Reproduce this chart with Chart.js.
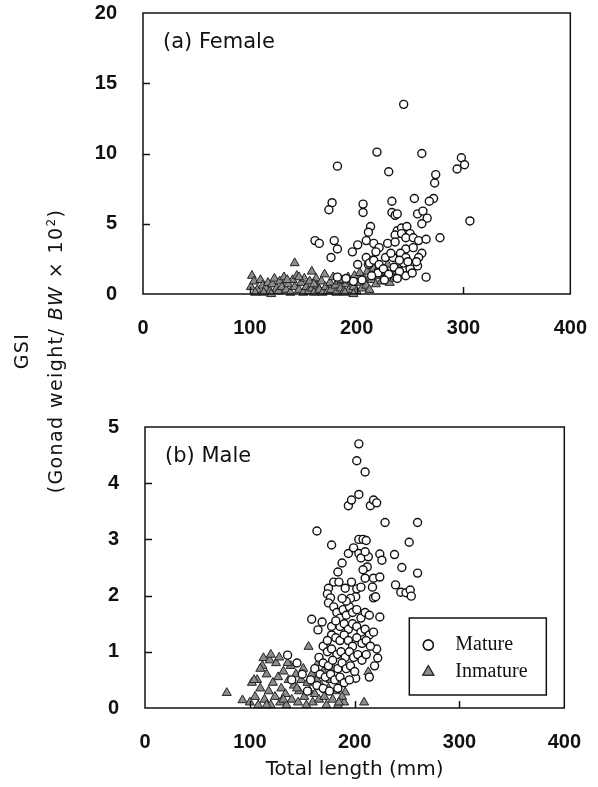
<!DOCTYPE html>
<html>
<head>
<meta charset="utf-8">
<script src="https://cdn.jsdelivr.net/npm/chart.js@4.4.0/dist/chart.umd.min.js"></script>
<style>
  body { margin: 0; background: #fff; }
  #wrap { position: relative; width: 598px; height: 787px; overflow: hidden; }
  #boxA { position: absolute; left: 0; top: -25px; width: 609px; height: 365px; }
  #boxB { position: absolute; left: 0; top: 340px; width: 603px; height: 447px; }
  #ytitle {
    position: absolute; left: -112px; top: 317px; width: 300px; height: 68px;
    text-align: center; transform: rotate(-90deg);
    font-family: "DejaVu Sans"; font-size: 19px; letter-spacing: 1.4px; line-height: 34px; color: #111;
  }
  #ytitle sup { font-size: 12px; line-height: 0; }
</style>
</head>
<body>
<div id="wrap">
  <div id="boxA"><canvas id="female"></canvas></div>
  <div id="boxB"><canvas id="male"></canvas></div>
  <div id="ytitle">GSI<br>(Gonad weight/ <i>BW</i> &#215; 10<sup>2</sup>)</div>
</div>
<script>
// tick labels
const xTicks = [0, 100, 200, 300, 400];
const femaleYTicks = [0, 5, 10, 15, 20];
const maleYTicks = [0, 1, 2, 3, 4, 5];

// (a) Female - total length (mm) / GSI
const femaleMatureX = [182, 219, 230, 177, 174, 206, 206, 233, 233, 213, 211, 161, 165, 179, 182, 176, 196, 201, 209, 216, 221, 218, 229, 209, 215, 201, 211, 227, 182,
  244, 261, 298, 294, 301, 274, 273, 254, 272, 268, 236, 238, 257, 262, 266, 261, 306, 238, 242, 247, 236, 242, 250, 246, 253, 258, 265, 278, 236, 246, 253, 261, 241, 246, 258, 257, 212, 216, 221, 234, 246, 265,
  220, 225, 230, 235, 240, 244, 250, 238, 226, 214, 205, 197, 190, 232, 248, 252, 256, 240];
const femaleMatureY = [9.1, 10.1, 8.7, 6.5, 6.0, 6.4, 5.8, 6.6, 5.8, 4.8, 4.4, 3.8, 3.6, 3.8, 3.2, 2.6, 3.0, 3.5, 3.8, 3.6, 3.3, 3.0, 3.6, 2.6, 2.4, 2.1, 2.1, 2.6, 1.2,
  13.5, 10.0, 9.7, 8.9, 9.2, 8.5, 7.9, 6.8, 6.8, 6.6, 5.6, 5.7, 5.7, 5.9, 5.4, 5.0, 5.2, 4.5, 4.7, 4.8, 4.2, 4.3, 4.3, 4.0, 4.0, 3.8, 3.9, 4.0, 3.7, 3.2, 3.3, 2.9, 2.9, 2.6, 2.6, 2.0, 2.2, 2.4, 2.1, 2.6, 1.3, 1.2,
  1.5, 1.8, 1.4, 1.9, 1.6, 2.2, 1.8, 1.1, 1.0, 1.3, 1.0, 0.9, 1.1, 2.9, 2.3, 1.5, 2.3, 2.4];
const femaleImmatureX = [102, 101, 104, 107, 110, 112, 115, 117, 119, 121, 123, 125, 127, 128, 130, 132, 134, 136, 138, 140, 142, 142, 144, 146, 148, 150, 151, 153, 155, 156, 158, 158, 160, 162, 163, 165, 167, 168, 170, 171, 173, 175, 176, 178, 180, 181, 183, 185, 186, 188, 190, 192, 193, 195, 197, 198, 200, 202, 203, 205, 207, 209, 210, 212, 214, 216, 218, 219, 221, 223, 225, 227, 228, 229, 231, 233, 235, 238, 113, 146, 135, 189, 160, 120, 105, 197, 240];
const femaleImmatureY = [1.3, 0.5, 0.9, 0.3, 1.0, 0.6, 0.4, 0.8, 0.2, 0.7, 1.1, 0.4, 0.2, 0.9, 0.5, 1.2, 0.3, 0.7, 0.1, 1.0, 2.2, 0.5, 1.3, 0.3, 0.8, 0.1, 1.1, 0.5, 0.2, 0.9, 1.6, 0.4, 0.1, 1.1, 0.6, 0.3, 0.9, 0.1, 1.4, 0.5, 0.2, 0.8, 0.3, 1.2, 0.6, 0.1, 0.9, 0.4, 1.0, 0.2, 0.7, 1.2, 0.3, 0.9, 0.5, 1.3, 0.2, 0.8, 1.5, 0.4, 1.1, 0.6, 1.6, 0.3, 1.0, 1.8, 0.7, 1.3, 1.9, 0.9, 1.5, 1.2, 1.6, 2.1, 0.8, 1.4, 1.1, 1.2, 0.1, 1.2, 1.0, 0.1, 0.7, 0.0, 0.1, 0.0, 1.8];

// (b) Male
const maleMatureX = [204, 202, 210, 204, 194, 197, 215, 218, 221, 229, 164, 178, 194, 199, 204, 208, 211, 204, 206, 213, 210, 224, 226, 184, 188, 180, 185, 191, 197, 175, 174, 177, 175, 202, 201, 206, 210, 212, 208, 218, 217, 218, 220, 224, 159, 165, 169, 136, 201, 222, 221, 224, 260, 252, 238, 245, 260, 239, 244, 249, 253, 254,
  180, 183, 186, 189, 192, 195, 198, 202, 206, 210, 214, 186, 190, 194, 198, 202, 206, 210, 214, 218, 178, 182, 186, 190, 194, 198, 202, 207, 211, 215, 170, 174, 178, 183, 187, 191, 195, 199, 203, 207, 211, 166, 170, 175, 179, 184, 188, 192, 196, 200, 162, 167, 172, 177, 181, 186, 190, 195, 158, 164, 170, 150, 145, 140, 155, 176, 184, 219, 214, 178, 174, 182, 196, 192, 188];
const maleMatureY = [4.7, 4.4, 4.2, 3.8, 3.6, 3.7, 3.6, 3.7, 3.65, 3.3, 3.15, 2.9, 2.75, 2.85, 3.0, 3.0, 2.98, 2.75, 2.67, 2.69, 2.78, 2.74, 2.63, 2.42, 2.58, 2.24, 2.24, 2.13, 2.24, 2.13, 2.03, 1.96, 1.87, 2.12, 1.98, 2.15, 2.31, 2.51, 2.46, 2.31, 2.15, 1.96, 1.98, 2.33, 1.58, 1.39, 1.53, 0.94, 0.53, 0.89, 1.05, 1.62, 3.3, 2.95, 2.73, 2.5, 2.4, 2.19, 2.06, 2.05, 2.1, 1.99,
  1.8, 1.7, 1.6, 1.75, 1.65, 1.8, 1.7, 1.75, 1.6, 1.7, 1.65, 1.45, 1.5, 1.4, 1.5, 1.45, 1.35, 1.4, 1.3, 1.35, 1.3, 1.25, 1.2, 1.3, 1.2, 1.1, 1.25, 1.15, 1.2, 1.1, 1.1, 1.0, 1.05, 0.95, 1.0, 0.9, 1.0, 0.9, 0.95, 0.85, 0.95, 0.9, 0.8, 0.75, 0.85, 0.7, 0.8, 0.7, 0.75, 0.65, 0.7, 0.6, 0.55, 0.6, 0.5, 0.55, 0.45, 0.5, 0.5, 0.4, 0.35, 0.6, 0.8, 0.5, 0.3, 0.3, 0.35, 0.75, 0.55, 1.45, 1.2, 1.55, 1.95, 1.9, 1.95];
const maleImmatureX = [78, 93, 209, 213, 156, 113, 191, 190, 100, 102, 105, 107, 108, 110, 112, 114, 116, 118, 119, 120, 122, 124, 125, 127, 129, 130, 132, 134, 135, 137, 139, 140, 142, 144, 146, 147, 149, 151, 152, 154, 155, 157, 159, 160, 162, 164, 166, 168, 170, 171, 173, 175, 177, 179, 180, 182, 184, 186, 188, 120, 128, 136, 104, 110, 145, 132, 116, 165, 185];
const maleImmatureY = [0.27, 0.14, 0.1, 0.64, 1.09, 0.89, 0.28, 0.1, 0.1, 0.45, 0.2, 0.5, 0.05, 0.35, 0.75, 0.15, 0.6, 0.3, 0.85, 0.05, 0.45, 0.2, 0.8, 0.55, 0.1, 0.35, 0.65, 0.25, 0.05, 0.5, 0.75, 0.15, 0.4, 0.6, 0.1, 0.3, 0.5, 0.7, 0.2, 0.05, 0.45, 0.3, 0.6, 0.1, 0.25, 0.5, 0.15, 0.4, 0.65, 0.2, 0.05, 0.35, 0.5, 0.15, 0.7, 0.3, 0.05, 0.45, 0.2, 0.95, 0.9, 0.8, 0.5, 0.7, 0.35, 0.15, 0.05, 0.8, 0.1];

const toPoints = (xs, ys) => xs.map((x, i) => ({ x: x, y: ys[i] }));

const tickFont = { family: "Liberation Sans", size: 20, weight: "bold" };

// frame, inward ticks, panel label, optional legend box
const framePlugin = {
  id: "frame",
  afterDatasetsDraw(chart, args, opts) {
    const { ctx, chartArea: a, scales } = chart;
    ctx.save();
    ctx.strokeStyle = "#111";
    ctx.lineWidth = 1.5;
    ctx.strokeRect(a.left, a.top, a.right - a.left, a.bottom - a.top);
    ctx.beginPath();
    scales.x.ticks.forEach((t) => {
      if (t.value <= scales.x.min || t.value >= scales.x.max) return;
      const px = Math.round(scales.x.getPixelForValue(t.value)) + 0.5;
      ctx.moveTo(px, a.bottom);
      ctx.lineTo(px, a.bottom - 7);
    });
    scales.y.ticks.forEach((t) => {
      if (t.value <= scales.y.min || t.value >= scales.y.max) return;
      const py = Math.round(scales.y.getPixelForValue(t.value)) + 0.5;
      ctx.moveTo(a.left, py);
      ctx.lineTo(a.left + 7, py);
    });
    ctx.stroke();

    ctx.fillStyle = "#111";
    ctx.font = '21px "DejaVu Sans"';
    ctx.textBaseline = "middle";
    ctx.fillText(opts.label, a.left + 20, a.top + 30);

    if (opts.legend) {
      const bw = 137, bh = 77;
      const bx = a.right - 18 - bw, by = a.bottom - 13 - bh;
      ctx.fillStyle = "#fff";
      ctx.fillRect(bx, by, bw, bh);
      ctx.lineWidth = 1.5;
      ctx.strokeRect(bx, by, bw, bh);
      chart.data.datasets.forEach((ds, i) => {
        const cy = by + 27 + i * 27;
        Chart.helpers.drawPoint(ctx, {
          pointStyle: ds.pointStyle, radius: ds.pointRadius + 1,
          borderWidth: ds.borderWidth
        }, bx + 19, cy);
        ctx.fillStyle = ds.backgroundColor;
        ctx.strokeStyle = ds.borderColor;
        ctx.lineWidth = ds.borderWidth;
        ctx.fill();
        ctx.stroke();
        ctx.fillStyle = "#111";
        ctx.font = '20px "Liberation Serif"';
        ctx.fillText(ds.label, bx + 46, cy);
      });
    }
    ctx.restore();
  }
};

function makeChart(id, matX, matY, immX, immY, yMax, padTop, padRight, yWidth, xHeight, label, showTitle) {
  return new Chart(document.getElementById(id), {
    type: "scatter",
    data: {
      datasets: [
        {
          label: "Mature",
          data: toPoints(matX, matY),
          pointStyle: "circle",
          pointRadius: 4,
          backgroundColor: "#fff",
          borderColor: "#111",
          borderWidth: 1.4,
          clip: false
        },
        {
          label: "Inmature",
          data: toPoints(immX, immY),
          pointStyle: "triangle",
          pointRadius: 5.2,
          backgroundColor: "#8c8c8c",
          borderColor: "#222",
          borderWidth: 1,
          clip: false
        }
      ]
    },
    options: {
      responsive: true,
      maintainAspectRatio: false,
      animation: false,
      layout: { padding: { top: padTop, right: padRight, left: 0, bottom: 0 } },
      plugins: {
        legend: { display: false },
        tooltip: { enabled: false },
        frame: { label: label, legend: showTitle }
      },
      scales: {
        x: {
          type: "linear",
          min: 0,
          max: 400,
          afterBuildTicks: (s) => { s.ticks = xTicks.map((v) => ({ value: v })); },
          afterFit: (s) => { s.height = xHeight; },
          grid: { display: false, drawTicks: false },
          border: { display: false },
          ticks: { font: tickFont, color: "#111", padding: 22, maxRotation: 0 },
          title: {
            display: showTitle,
            text: "Total length (mm)",
            font: { family: "DejaVu Sans", size: 20 },
            color: "#111",
            padding: { top: 0, bottom: 5 }
          }
        },
        y: {
          type: "linear",
          min: 0,
          max: yMax,
          afterBuildTicks: (s) => { s.ticks = (yMax === 20 ? femaleYTicks : maleYTicks).map((v) => ({ value: v })); },
          afterFit: (s) => { s.width = yWidth; },
          grid: { display: false, drawTicks: false },
          border: { display: false },
          ticks: { font: tickFont, color: "#111", padding: 26 }
        }
      }
    },
    plugins: [framePlugin]
  });
}

makeChart("female", femaleMatureX, femaleMatureY, femaleImmatureX, femaleImmatureY, 20, 12, 29, 143, 46, "(a) Female", false);
makeChart("male", maleMatureX, maleMatureY, maleImmatureX, maleImmatureY, 5, 87, 35, 145, 79, "(b) Male", true);
</script>
</body>
</html>
